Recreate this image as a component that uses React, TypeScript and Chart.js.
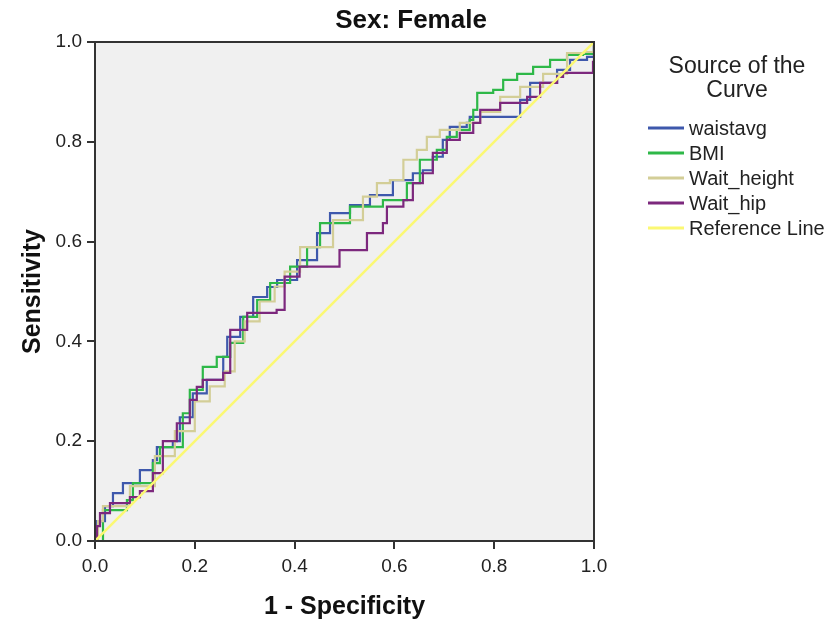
import React, { useEffect, useRef } from 'react';
import { Chart, registerables } from 'chart.js';
Chart.register(...registerables);

const chartTitle = 'Sex: Female';
const xTitle = '1 - Specificity';
const yTitle = 'Sensitivity';
const legendTitle = ['Source of the', 'Curve'];
const seriesNames = ['waistavg', 'BMI', 'Wait_height', 'Wait_hip', 'Reference Line'];
const seriesColors = ['#3E58AC', '#2EB848', '#D3CE97', '#7C287D', '#FBF873'];
const tickValues = [0, 0.2, 0.4, 0.6, 0.8, 1.0];

const waistavg: [number, number][] = [
  [0, 0], [0.004, 0.04], [0.02, 0.07], [0.036, 0.096], [0.056, 0.116], [0.09, 0.142],
  [0.116, 0.162], [0.124, 0.188], [0.156, 0.2], [0.17, 0.248], [0.196, 0.296], [0.224, 0.323],
  [0.257, 0.369], [0.265, 0.409], [0.291, 0.449], [0.317, 0.489], [0.345, 0.509], [0.365, 0.523],
  [0.405, 0.563], [0.445, 0.617], [0.471, 0.657], [0.511, 0.673], [0.551, 0.693], [0.597, 0.723],
  [0.637, 0.737], [0.657, 0.743], [0.677, 0.77], [0.697, 0.804], [0.711, 0.83], [0.745, 0.838],
  [0.751, 0.85], [0.846, 0.85], [0.852, 0.884], [0.872, 0.918], [0.898, 0.918], [0.926, 0.944],
  [0.952, 0.964], [0.986, 0.97], [1, 0.99], [1, 1],
];
const bmi: [number, number][] = [
  [0, 0], [0.016, 0.062], [0.064, 0.082], [0.076, 0.116], [0.116, 0.156], [0.13, 0.188],
  [0.176, 0.256], [0.19, 0.303], [0.216, 0.349], [0.244, 0.369], [0.271, 0.397], [0.297, 0.449],
  [0.325, 0.483], [0.351, 0.517], [0.391, 0.55], [0.425, 0.589], [0.451, 0.637], [0.511, 0.67],
  [0.577, 0.683], [0.625, 0.717], [0.651, 0.764], [0.685, 0.784], [0.705, 0.81], [0.725, 0.824],
  [0.751, 0.844], [0.758, 0.864], [0.766, 0.898], [0.798, 0.904], [0.818, 0.924], [0.846, 0.936],
  [0.878, 0.95], [0.912, 0.964], [0.946, 0.974], [0.978, 0.976], [1, 1],
];
const waitHeight: [number, number][] = [
  [0, 0], [0.006, 0.04], [0.016, 0.07], [0.07, 0.11], [0.12, 0.17], [0.16, 0.22], [0.2, 0.28],
  [0.23, 0.31], [0.26, 0.34], [0.28, 0.4], [0.3, 0.44], [0.33, 0.48], [0.36, 0.51], [0.38, 0.54],
  [0.411, 0.589], [0.477, 0.643], [0.537, 0.69], [0.565, 0.717], [0.591, 0.723], [0.618, 0.764],
  [0.645, 0.784], [0.665, 0.81], [0.691, 0.824], [0.731, 0.838], [0.772, 0.86], [0.812, 0.89],
  [0.852, 0.91], [0.898, 0.936], [0.946, 0.978], [0.98, 0.98], [1, 1],
];
const waitHip: [number, number][] = [
  [0, 0], [0.004, 0.03], [0.01, 0.056], [0.03, 0.076], [0.07, 0.088], [0.09, 0.1], [0.116, 0.136],
  [0.136, 0.2], [0.164, 0.236], [0.19, 0.283], [0.204, 0.309], [0.216, 0.323], [0.257, 0.337],
  [0.271, 0.423], [0.305, 0.457], [0.364, 0.463], [0.38, 0.53], [0.41, 0.55], [0.44, 0.55],
  [0.49, 0.583], [0.545, 0.617], [0.577, 0.637], [0.585, 0.67], [0.618, 0.683], [0.637, 0.717],
  [0.657, 0.737], [0.677, 0.778], [0.705, 0.804], [0.731, 0.818], [0.758, 0.838], [0.772, 0.864],
  [0.812, 0.878], [0.866, 0.89], [0.892, 0.918], [0.926, 0.93], [0.938, 0.938], [0.986, 0.938],
  [0.998, 0.96], [1, 1],
];
const referenceLine: [number, number][] = [[0, 0], [1, 1]];

const FONT = '"Liberation Sans", Arial, sans-serif';

const toPts = (arr: [number, number][]) => arr.map(([x, y]) => ({ x, y }));

const decorPlugin = {
  id: 'decor',
  beforeDraw(chart: any) {
    const { ctx, chartArea: a, width, height } = chart;
    ctx.save();
    ctx.fillStyle = '#ffffff';
    ctx.fillRect(0, 0, width, height);
    ctx.fillStyle = '#F0F0F0';
    ctx.fillRect(a.left, a.top, a.right - a.left, a.bottom - a.top);
    ctx.restore();
  },
  afterDatasetsDraw(chart: any) {
    const { ctx, chartArea: a } = chart;
    ctx.save();
    ctx.strokeStyle = '#333333';
    ctx.lineWidth = 2;
    ctx.strokeRect(a.left, a.top, a.right - a.left, a.bottom - a.top);
    ctx.restore();
  },
  afterDraw(chart: any) {
    const { ctx, chartArea: a } = chart;
    ctx.save();
    ctx.fillStyle = '#111111';
    ctx.textAlign = 'center';
    ctx.textBaseline = 'middle';
    ctx.font = `bold 26px ${FONT}`;
    ctx.fillText(chartTitle, 411, 21);
    ctx.font = `bold 25px ${FONT}`;
    ctx.fillText(xTitle, (a.left + a.right) / 2, 607);
    ctx.save();
    ctx.translate(33, (a.top + a.bottom) / 2);
    ctx.rotate(-Math.PI / 2);
    ctx.fillText(yTitle, 0, 0);
    ctx.restore();

    ctx.fillStyle = '#222222';
    ctx.font = `23px ${FONT}`;
    ctx.fillText(legendTitle[0], 737, 67);
    ctx.fillText(legendTitle[1], 737, 91);

    ctx.font = `20px ${FONT}`;
    ctx.textAlign = 'left';
    seriesNames.forEach((name, i) => {
      const y = 128 + i * 25;
      ctx.strokeStyle = seriesColors[i];
      ctx.lineWidth = 3;
      ctx.beginPath();
      ctx.moveTo(648, y);
      ctx.lineTo(684, y);
      ctx.stroke();
      ctx.fillStyle = '#222222';
      ctx.fillText(name, 689, y + 1);
    });
    ctx.restore();
  },
};

export default function App() {
  const ref = useRef<HTMLCanvasElement | null>(null);
  useEffect(() => {
    if (!ref.current) return;
    const series = [waistavg, bmi, waitHeight, waitHip];
    const orders = [4, 3, 2, 1];
    const datasets: any[] = series.map((s, i) => ({
      label: seriesNames[i],
      data: toPts(s),
      borderColor: seriesColors[i],
      borderWidth: 2.2,
      pointRadius: 0,
      stepped: 'before',
      fill: false,
      order: orders[i],
    }));
    datasets.push({
      label: seriesNames[4],
      data: toPts(referenceLine),
      borderColor: seriesColors[4],
      borderWidth: 2.5,
      pointRadius: 0,
      fill: false,
      order: 0,
    });
    const chart = new Chart(ref.current, {
      type: 'line',
      data: { datasets },
      plugins: [decorPlugin],
      options: {
        responsive: false,
        animation: false,
        layout: { padding: { top: 42, right: 236, left: 0, bottom: 0 } },
        plugins: { legend: { display: false }, tooltip: { enabled: false }, title: { display: false } },
        scales: {
          x: {
            type: 'linear',
            min: 0,
            max: 1,
            afterFit: (s: any) => { s.height = 86; },
            afterBuildTicks: (s: any) => { s.ticks = tickValues.map((v) => ({ value: v })); },
            ticks: {
              callback: (v: any) => Number(v).toFixed(1),
              font: { family: FONT, size: 19 },
              color: '#222222',
              padding: 6,
              maxRotation: 0,
            },
            grid: { display: true, drawOnChartArea: false, drawTicks: true, tickLength: 8, color: '#333333', lineWidth: 2 },
            border: { display: true, color: '#333333', width: 2 },
          },
          y: {
            type: 'linear',
            min: 0,
            max: 1,
            afterFit: (s: any) => { s.width = 95; },
            afterBuildTicks: (s: any) => { s.ticks = tickValues.map((v) => ({ value: v })); },
            ticks: {
              callback: (v: any) => Number(v).toFixed(1),
              font: { family: FONT, size: 19 },
              color: '#222222',
              padding: 5,
            },
            grid: { display: true, drawOnChartArea: false, drawTicks: true, tickLength: 8, color: '#333333', lineWidth: 2 },
            border: { display: true, color: '#333333', width: 2 },
          },
        },
      },
    });
    return () => chart.destroy();
  }, []);
  return (
    <div style={{ position: 'absolute', left: 0, top: 0, width: 830, height: 627, background: '#fff' }}>
      <canvas ref={ref} width={830} height={627} style={{ display: 'block', width: 830, height: 627 }} />
    </div>
  );
}
